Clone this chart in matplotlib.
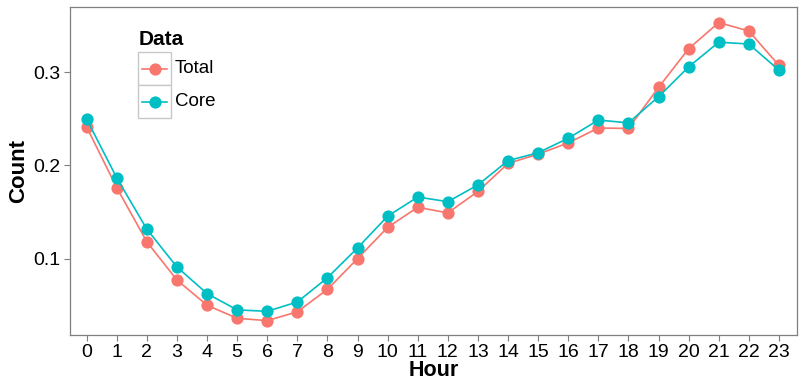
import matplotlib
matplotlib.use("Agg")
import matplotlib.pyplot as plt
from matplotlib.patches import Rectangle
from matplotlib.lines import Line2D

plt.rcParams['font.family'] = ['Liberation Sans', 'DejaVu Sans']

hours = list(range(24))
hour_labels = [str(h) for h in hours]
total = [0.241, 0.176, 0.118, 0.077, 0.050, 0.036, 0.0335, 0.043, 0.067, 0.100,
         0.1335, 0.155, 0.149, 0.172, 0.202, 0.212, 0.224, 0.240, 0.2395, 0.2835,
         0.325, 0.353, 0.344, 0.307]
core = [0.2495, 0.1865, 0.1315, 0.091, 0.0625, 0.045, 0.0435, 0.0535, 0.0795, 0.1115,
        0.1455, 0.166, 0.161, 0.179, 0.205, 0.2135, 0.229, 0.2485, 0.2455, 0.2735,
        0.3055, 0.332, 0.330, 0.302]
series_names = ['Total', 'Core']
colors = ['#F8766D', '#00BFC4']
yticks = [0.1, 0.2, 0.3]

W, H = 806, 380
fig = plt.figure(figsize=(W / 100, H / 100), dpi=100)
ax = fig.add_axes([69.5 / W, 1 - 335 / H, (797 - 69.5) / W, (335 - 7) / H])

for vals, col in zip([total, core], colors):
    ax.plot(hours, vals, color=col, lw=1.2, marker='o', markersize=8.8,
            markeredgewidth=0, zorder=3)

ax.set_xlim(-0.57, 23.6)
ax.set_ylim(0.0181, 0.3697)
ax.set_xticks(hours)
ax.set_xticklabels(hour_labels)
ax.set_yticks(yticks)
ax.set_yticklabels([f"{v:.1f}" for v in yticks])
for s in ax.spines.values():
    s.set_color('#7f7f7f')
    s.set_linewidth(0.9)
ax.tick_params(axis='both', direction='out', length=4, width=0.8, color='#7f7f7f',
               labelsize=14, labelcolor='black', pad=2.5)
ax.set_xlabel('Hour', fontsize=15.5, fontweight='bold', va='top')
ax.xaxis.set_label_coords(0.5, (335 - 360.5) / 328)
ax.set_ylabel('Count', fontsize=16, fontweight='bold', va='center')
ax.yaxis.set_label_coords((18.7 - 69.5) / 727.5, 0.5)

# legend (drawn manually in figure pixel coordinates, ggplot style)
def fx(px):
    return px / W

def fy(py):
    return 1 - py / H

fig.text(fx(139), fy(45), 'Data', fontsize=15, fontweight='bold', ha='left', va='baseline')
key_tops = [52.3, 85]
for name, col, top in zip(series_names, colors, key_tops):
    fig.patches.append(Rectangle((fx(138.3), fy(top + 32.7)), fx(171) - fx(138.3),
                                 fy(top) - fy(top + 32.7), transform=fig.transFigure,
                                 facecolor='white', edgecolor='#c8c8c8', lw=1.0))
    cy = top + 16.5
    fig.lines.append(Line2D([fx(141.7), fx(166.7)], [fy(cy), fy(cy)], transform=fig.transFigure,
                            color=col, lw=1.2))
    fig.lines.append(Line2D([fx(154.5)], [fy(cy)], transform=fig.transFigure,
                            color=col, marker='o', markersize=8.8, markeredgewidth=0))
    fig.text(fx(175), fy(cy), name, fontsize=13.5, ha='left', va='center')

fig.savefig('out.png', dpi=100)
